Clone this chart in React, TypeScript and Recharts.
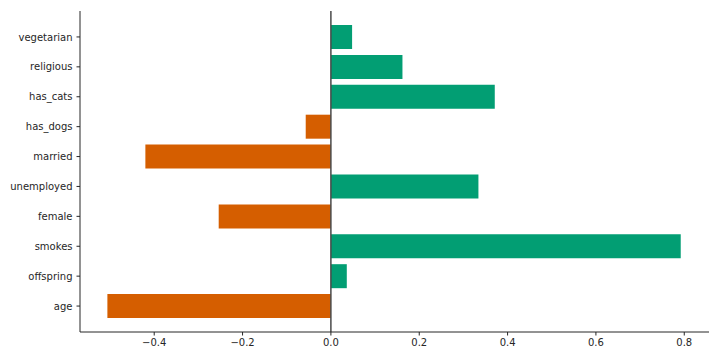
import React from 'react';
import { Bar, BarChart, Cell, ReferenceLine, XAxis, YAxis } from 'recharts';

const features = ['vegetarian', 'religious', 'has_cats', 'has_dogs', 'married', 'unemployed', 'female', 'smokes', 'offspring', 'age'];
const weights = [0.048, 0.162, 0.371, -0.057, -0.42, 0.334, -0.254, 0.792, 0.036, -0.506];
const xTicks = [-0.4, -0.2, 0, 0.2, 0.4, 0.6, 0.8];

const posColor = '#029e73';
const negColor = '#d55e00';
const axisColor = '#262626';
const font = 'DejaVu Sans, sans-serif';

const formatTick = (v: number) => (v < 0 ? `\u2212${Math.abs(v).toFixed(1)}` : v.toFixed(1));

const App: React.FC = () => {
    const data = features.map((name, i) => ({ name, value: weights[i] }));

    return (
        <div style={{ position: 'absolute', left: 0, top: 0, width: 720, height: 360, background: '#fff' }}>
            <BarChart
                width={720}
                height={360}
                data={data}
                layout="vertical"
                margin={{ top: 11, right: 11, left: 0, bottom: 0 }}
                barCategoryGap="10%"
            >
                <XAxis
                    type="number"
                    domain={[-0.568, 0.856]}
                    ticks={xTicks}
                    allowDataOverflow
                    tickFormatter={formatTick}
                    height={28}
                    stroke={axisColor}
                    tick={{ fill: axisColor, fontSize: 10, fontFamily: font }}
                    tickSize={3.5}
                    tickMargin={3}
                />
                <YAxis
                    type="category"
                    dataKey="name"
                    width={80}
                    padding={{ top: 11, bottom: 11 }}
                    stroke={axisColor}
                    tick={{ fill: axisColor, fontSize: 10, fontFamily: font }}
                    tickSize={3.5}
                    tickMargin={4}
                    interval={0}
                />
                <Bar dataKey="value" isAnimationActive={false}>
                    {data.map(d => (
                        <Cell key={d.name} fill={d.value >= 0 ? posColor : negColor} />
                    ))}
                </Bar>
                <ReferenceLine x={0} stroke="#4a4a4a" strokeWidth={1.5} />
            </BarChart>
        </div>
    );
};

export default App;
